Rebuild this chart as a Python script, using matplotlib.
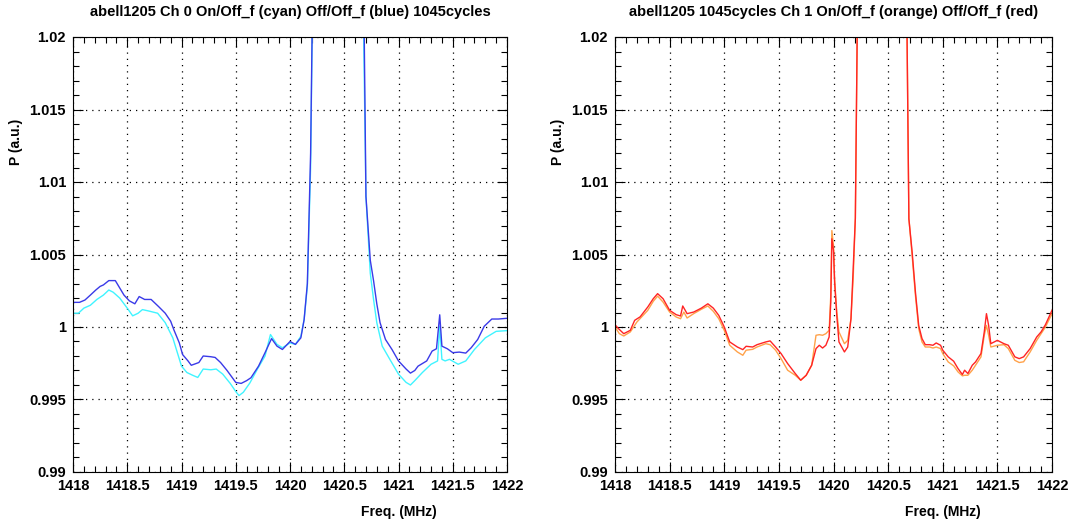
import numpy as np
import matplotlib.pyplot as plt
from matplotlib.ticker import MultipleLocator, FuncFormatter

plt.rcParams['font.family'] = ['Liberation Sans', 'DejaVu Sans']
plt.rcParams['font.weight'] = 'bold'

# ---- Ch 0 (left panel) ----
f_blue = [1418.0, 1418.06, 1418.11, 1418.16, 1418.21, 1418.25, 1418.28, 1418.33, 1418.39, 1418.43,
          1418.47, 1418.52, 1418.57, 1418.61, 1418.66, 1418.72, 1418.79, 1418.85, 1418.9, 1418.93,
          1418.98, 1419.01, 1419.06, 1419.09, 1419.16, 1419.2, 1419.27, 1419.31, 1419.36, 1419.42,
          1419.5, 1419.55, 1419.6, 1419.64, 1419.71, 1419.77, 1419.83, 1419.88, 1419.93, 1420.0,
          1420.05, 1420.1, 1420.13, 1420.16, 1420.19, 1420.22, 1420.45, 1420.67, 1420.7, 1420.74,
          1420.77, 1420.8, 1420.83, 1420.88, 1420.94, 1421.0, 1421.07, 1421.11, 1421.15, 1421.18,
          1421.26, 1421.31, 1421.35, 1421.38, 1421.4, 1421.45, 1421.5, 1421.56, 1421.62, 1421.67,
          1421.73, 1421.79, 1421.86, 1421.92, 1422.0]
p_blue = [1.0017, 1.0017, 1.00186, 1.0022, 1.00255, 1.0028, 1.0029, 1.0032, 1.0032, 1.0027,
          1.0022, 1.0018, 1.0016, 1.0021, 1.0019, 1.0019, 1.0014, 1.00095, 1.0004, 0.9998,
          0.9989, 0.9981, 0.99766, 0.99736, 0.99755, 0.998, 0.99795, 0.9979, 0.99755, 0.997,
          0.99618, 0.99611, 0.9963, 0.9965, 0.9973, 0.99823, 0.9992, 0.99868, 0.99845, 0.999,
          0.9988, 0.99925, 1.0005, 1.003, 1.012, 1.03, 1.08, 1.03, 1.009, 1.0046,
          1.0032, 1.0016, 1.0003, 0.99914, 0.99845, 0.99766, 0.9971, 0.99682, 0.997, 0.9973,
          0.99766, 0.99834, 0.9985, 1.00084, 0.99868, 0.9985, 0.99823, 0.99827, 0.9982, 0.99857,
          0.99914, 1.00005, 1.00055, 1.00055, 1.0006]

f_cyan = [1418.0, 1418.05, 1418.1, 1418.16, 1418.22, 1418.28, 1418.33, 1418.37, 1418.43, 1418.5,
          1418.55, 1418.6, 1418.64, 1418.7, 1418.78, 1418.85, 1418.92, 1419.0, 1419.05, 1419.1,
          1419.15, 1419.2, 1419.27, 1419.32, 1419.38, 1419.45, 1419.5, 1419.53, 1419.57, 1419.63,
          1419.7, 1419.77, 1419.82, 1419.88, 1419.93, 1420.0, 1420.05, 1420.1, 1420.13, 1420.16,
          1420.19, 1420.22, 1420.45, 1420.66, 1420.7, 1420.74, 1420.77, 1420.8, 1420.85, 1420.92,
          1421.0, 1421.07, 1421.11, 1421.15, 1421.22, 1421.3, 1421.36, 1421.38, 1421.4, 1421.43,
          1421.47, 1421.55, 1421.62, 1421.7, 1421.8, 1421.9, 1422.0]
p_cyan = [1.00095, 1.00095, 1.0013, 1.0015, 1.0019, 1.0022, 1.00255, 1.0024, 1.002, 1.0013,
          1.00077, 1.00095, 1.0012, 1.0011, 1.00095, 1.0003, 0.99925, 0.9973, 0.99686, 0.99668,
          0.99652, 0.9971, 0.99705, 0.9971, 0.99675, 0.9961, 0.99555, 0.99527, 0.9955, 0.99614,
          0.9971, 0.998, 0.99948, 0.9988, 0.99857, 0.9989, 0.9988, 0.99936, 1.0005, 1.0028,
          1.011, 1.03, 1.08, 1.03, 1.009, 1.0037, 1.0019, 1.0003, 0.99868, 0.99777,
          0.99675, 0.99618, 0.996, 0.9963, 0.99686, 0.99743, 0.99766, 1.00005, 0.99777, 0.99766,
          0.99777, 0.99743, 0.99766, 0.99845, 0.99925, 0.9997, 0.99975]

# ---- Ch 1 (right panel) ----
f_red = [1418.0, 1418.03, 1418.08, 1418.14, 1418.18, 1418.23, 1418.3, 1418.35, 1418.39, 1418.44,
         1418.5, 1418.56, 1418.6, 1418.62, 1418.66, 1418.72, 1418.79, 1418.85, 1418.9, 1418.95,
         1419.0, 1419.05, 1419.12, 1419.17, 1419.2, 1419.26, 1419.3, 1419.38, 1419.42, 1419.47,
         1419.52, 1419.58, 1419.65, 1419.7, 1419.75, 1419.8, 1419.84, 1419.87, 1419.9, 1419.93,
         1419.96, 1419.975, 1419.985, 1420.0, 1420.01, 1420.03, 1420.05, 1420.1, 1420.13, 1420.16,
         1420.18, 1420.2, 1420.23, 1420.45, 1420.66, 1420.69, 1420.72, 1420.75, 1420.78, 1420.81,
         1420.84, 1420.88, 1420.91, 1420.94, 1420.98, 1421.0, 1421.05, 1421.1, 1421.14, 1421.18,
         1421.2, 1421.23, 1421.27, 1421.3, 1421.35, 1421.38, 1421.4, 1421.42, 1421.44, 1421.5,
         1421.56, 1421.6, 1421.66, 1421.7, 1421.74, 1421.8, 1421.86, 1421.9, 1421.94, 1422.0]
p_red = [1.00016, 0.9999, 0.99954, 0.99977, 1.00046, 1.0007, 1.00138, 1.00195, 1.0023, 1.00195,
         1.00115, 1.00085, 1.00076, 1.00145, 1.00092, 1.00103, 1.0013, 1.0016, 1.0013, 1.0008,
         1.0, 0.99897, 0.99862, 0.99844, 0.99867, 0.99862, 0.99878, 0.99897, 0.99904, 0.99862,
         0.99817, 0.99748, 0.99679, 0.99633, 0.99667, 0.99736, 0.99851, 0.99874, 0.99855, 0.99874,
         0.99931, 1.00172, 1.00608, 1.00528, 1.0031, 1.0008, 0.99897, 0.99828, 0.99862, 1.00057,
         1.004, 1.0075, 1.03, 1.08, 1.03, 1.00745, 1.00516, 1.0024, 1.0001, 0.9992,
         0.99878, 0.99878, 0.99874, 0.9989, 0.99874, 0.9984, 0.99794, 0.99764, 0.99713, 0.99672,
         0.99702, 0.99679, 0.99736, 0.99759, 0.99817, 0.99966, 1.00092, 1.00011, 0.99885, 0.99908,
         0.99885, 0.99874, 0.99794, 0.99782, 0.99794, 0.99851, 0.99931, 0.99966, 1.00016, 1.00115]

f_orange = [1418.0, 1418.04, 1418.08, 1418.14, 1418.2, 1418.3, 1418.35, 1418.39, 1418.44, 1418.5,
            1418.56, 1418.6, 1418.63, 1418.66, 1418.72, 1418.79, 1418.85, 1418.9, 1418.95, 1419.0,
            1419.05, 1419.12, 1419.17, 1419.2, 1419.26, 1419.3, 1419.38, 1419.42, 1419.47, 1419.52,
            1419.58, 1419.65, 1419.7, 1419.75, 1419.8, 1419.84, 1419.87, 1419.9, 1419.93, 1419.96,
            1419.975, 1419.985, 1420.0, 1420.01, 1420.03, 1420.05, 1420.1, 1420.13, 1420.16, 1420.18,
            1420.2, 1420.23, 1420.45, 1420.66, 1420.69, 1420.72, 1420.75, 1420.78, 1420.81, 1420.84,
            1420.88, 1420.91, 1420.94, 1420.98, 1421.0, 1421.05, 1421.1, 1421.14, 1421.18, 1421.2,
            1421.23, 1421.27, 1421.3, 1421.35, 1421.38, 1421.4, 1421.42, 1421.44, 1421.5, 1421.56,
            1421.6, 1421.66, 1421.7, 1421.74, 1421.8, 1421.86, 1421.9, 1421.94, 1422.0]
p_orange = [1.0, 0.99954, 0.99938, 0.99966, 1.00034, 1.00115, 1.00177, 1.00213, 1.00172, 1.00103,
            1.00069, 1.00057, 1.00103, 1.00062, 1.00092, 1.00122, 1.00145, 1.00108, 1.00057, 0.99977,
            0.99874, 0.99828, 0.99805, 0.9984, 0.99846, 0.99862, 0.99885, 0.99878, 0.9984, 0.99782,
            0.99702, 0.99667, 0.99633, 0.99667, 0.99736, 0.99943, 0.99947, 0.99943, 0.99954, 0.99977,
            1.00218, 1.00665, 1.00562, 1.00333, 1.00103, 0.99966, 0.99885, 0.99908, 1.00057, 1.00333,
            1.0075, 1.03, 1.08, 1.03, 1.0075, 1.0049, 1.00218, 0.99989, 0.99897, 0.99862,
            0.99862, 0.99855, 0.99862, 0.99851, 0.99817, 0.99759, 0.99732, 0.9969, 0.99663, 0.99667,
            0.99667, 0.99702, 0.99736, 0.99794, 0.99943, 1.00011, 0.99943, 0.99862, 0.99874, 0.99878,
            0.99851, 0.9977, 0.99755, 0.9976, 0.99828, 0.99908, 0.99954, 1.0, 1.00092]

titles = ['abell1205 Ch 0 On/Off_f (cyan) Off/Off_f (blue) 1045cycles',
          'abell1205 1045cycles Ch 1 On/Off_f (orange) Off/Off_f (red)']


def fmt(v, pos):
    s = '%.3f' % v
    return s.rstrip('0').rstrip('.')


W, H = 1073, 524
fig = plt.figure(figsize=(W / 100, H / 100), dpi=100)
ax1 = fig.add_axes([73 / W, 52 / H, 434 / W, 435 / H])
ax2 = fig.add_axes([615 / W, 52 / H, 437 / W, 435 / H])

ax1.plot(f_cyan, p_cyan, color='#40f4ff', lw=1.0)
ax1.plot(f_blue, p_blue, color='#3a3ae8', lw=1.0)
ax2.plot(f_orange, p_orange, color='#ffa24a', lw=1.0)
ax2.plot(f_red, p_red, color='#ff2424', lw=1.0)

for ax, t in zip([ax1, ax2], titles):
    ax.set_xlim(1418, 1422)
    ax.set_ylim(0.99, 1.02)
    ax.xaxis.set_major_locator(MultipleLocator(0.5))
    ax.xaxis.set_minor_locator(MultipleLocator(0.1))
    ax.yaxis.set_major_locator(MultipleLocator(0.005))
    ax.yaxis.set_minor_locator(MultipleLocator(0.001))
    ax.xaxis.set_major_formatter(FuncFormatter(fmt))
    ax.yaxis.set_major_formatter(FuncFormatter(fmt))
    ax.tick_params(which='both', direction='in', top=True, right=True, labelsize=10.5, width=0.8)
    ax.tick_params(which='major', length=7, pad=5)
    ax.tick_params(which='minor', length=4)
    ax.grid(which='major', linestyle=(0, (1, 4)), color='black', lw=0.9)
    for s in ax.spines.values():
        s.set_linewidth(0.8)
    ax.set_title(t, fontsize=10.5, fontweight='bold', pad=15)
    ax.set_xlabel('Freq. (MHz)', fontsize=10, fontweight='bold')
    ax.xaxis.set_label_coords(0.75, -0.075)
    ax.set_ylabel('P (a.u.)', fontsize=10, fontweight='bold')
    ax.yaxis.set_label_coords(-0.115, 0.76)

fig.savefig('out.png', dpi=100)
